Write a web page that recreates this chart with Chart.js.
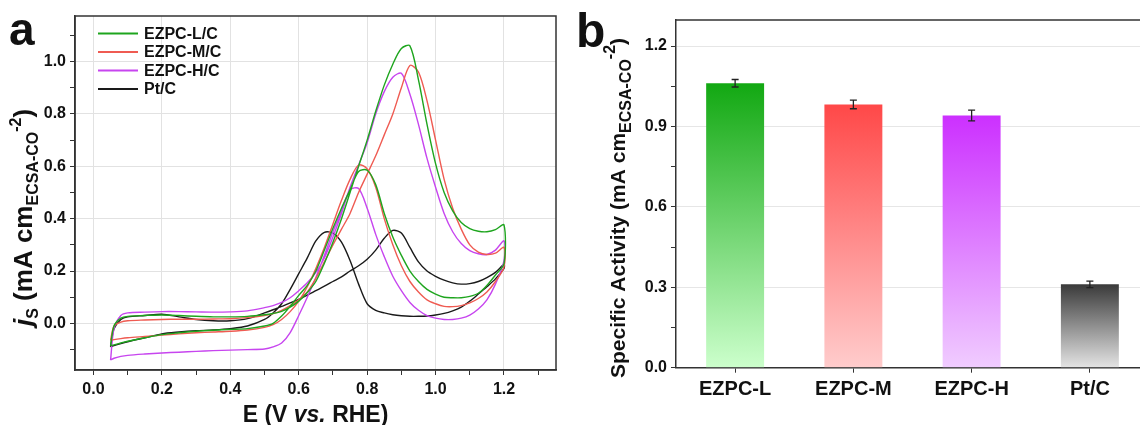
<!DOCTYPE html>
<html><head><meta charset="utf-8">
<script src="https://cdn.jsdelivr.net/npm/chart.js@4.4.0/dist/chart.umd.min.js"></script>
<style>
html,body{margin:0;padding:0;background:#fff;overflow:hidden;width:1140px;height:425px;}
#ca{position:absolute;left:0;top:0;}
#cb{position:absolute;left:570px;top:0;}
</style></head><body>
<canvas id="ca" width="570" height="425"></canvas>
<canvas id="cb" width="600" height="425"></canvas>
<script>
// ---------- Panel a: CV data (potential grid, forward & backward sweeps) ----------
const E_GRID = [0.05,0.06,0.08,0.1,0.15,0.2,0.25,0.3,0.35,0.4,0.45,0.5,0.525,0.55,0.575,0.6,0.625,0.65,0.675,0.7,0.725,0.75,0.775,0.8,0.825,0.85,0.875,0.9,0.925,0.95,0.975,1.0,1.025,1.05,1.075,1.1,1.125,1.15,1.175,1.2];

const L_FWD = [-0.085,-0.01,0.02,0.027,0.03,0.032,0.03,0.027,0.025,0.025,0.027,0.033,0.038,0.046,0.062,0.085,0.118,0.16,0.23,0.31,0.4,0.5,0.6,0.7,0.81,0.91,0.99,1.05,1.06,0.93,0.76,0.61,0.5,0.43,0.385,0.362,0.352,0.35,0.358,0.376];
const L_BWD = [-0.085,-0.082,-0.075,-0.068,-0.055,-0.043,-0.036,-0.03,-0.026,-0.023,-0.02,-0.01,0.0,0.028,0.065,0.107,0.145,0.2,0.28,0.363,0.44,0.51,0.58,0.585,0.53,0.42,0.33,0.26,0.2,0.16,0.13,0.112,0.1,0.098,0.098,0.103,0.115,0.145,0.185,0.228];

const M_FWD = [-0.065,-0.01,0.005,0.01,0.013,0.015,0.016,0.016,0.017,0.018,0.022,0.03,0.037,0.05,0.068,0.09,0.12,0.172,0.235,0.3,0.36,0.42,0.5,0.57,0.64,0.72,0.8,0.9,0.985,0.96,0.85,0.7,0.55,0.44,0.36,0.3,0.272,0.263,0.268,0.29];
const M_BWD = [-0.065,-0.062,-0.058,-0.055,-0.05,-0.045,-0.04,-0.036,-0.033,-0.03,-0.025,-0.015,-0.005,0.015,0.045,0.085,0.14,0.21,0.29,0.38,0.47,0.55,0.605,0.59,0.52,0.4,0.3,0.22,0.16,0.12,0.09,0.075,0.065,0.064,0.068,0.078,0.095,0.12,0.16,0.215];

const H_FWD = [-0.14,-0.02,0.03,0.04,0.043,0.045,0.045,0.044,0.043,0.044,0.048,0.06,0.068,0.08,0.098,0.125,0.155,0.195,0.25,0.33,0.42,0.52,0.605,0.69,0.8,0.885,0.94,0.955,0.875,0.76,0.63,0.52,0.42,0.35,0.305,0.278,0.266,0.263,0.28,0.315];
const H_BWD = [-0.14,-0.133,-0.126,-0.122,-0.117,-0.113,-0.11,-0.107,-0.104,-0.102,-0.1,-0.098,-0.09,-0.075,-0.035,0.03,0.1,0.175,0.26,0.35,0.43,0.51,0.515,0.44,0.34,0.255,0.18,0.125,0.08,0.05,0.03,0.02,0.015,0.015,0.02,0.032,0.055,0.09,0.15,0.24];

const P_FWD = [-0.09,-0.02,0.015,0.025,0.03,0.035,0.025,0.015,0.01,0.01,0.018,0.04,0.052,0.065,0.078,0.092,0.108,0.125,0.142,0.16,0.178,0.2,0.22,0.245,0.28,0.325,0.355,0.345,0.29,0.235,0.2,0.18,0.165,0.155,0.15,0.152,0.16,0.175,0.195,0.225];
const P_BWD = [-0.09,-0.085,-0.077,-0.07,-0.055,-0.04,-0.033,-0.028,-0.025,-0.02,-0.01,0.015,0.04,0.075,0.13,0.19,0.25,0.315,0.348,0.345,0.31,0.24,0.15,0.075,0.05,0.04,0.033,0.029,0.027,0.027,0.028,0.032,0.038,0.048,0.062,0.085,0.112,0.14,0.17,0.21];

const CV_LABELS = ['EZPC-L/C','EZPC-M/C','EZPC-H/C','Pt/C'];
const CV_COLORS = ['#1ea51e','#ef5b52','#c745ef','#1a1a1a'];

const A_X_TICK_LABELS = ['0.0','0.2','0.4','0.6','0.8','1.0','1.2'];
const A_Y_TICK_LABELS = ['0.0','0.2','0.4','0.6','0.8','1.0'];

// ---------- Panel b: bar data ----------
const BAR_CATS = ['EZPC-L','EZPC-M','EZPC-H','Pt/C'];
const BAR_VALUES = [1.061,0.982,0.941,0.311];
const BAR_ERRORS = [0.014,0.016,0.02,0.012];
const BAR_TOP = ['#12a812','#ff4848','#cc30ff','#3a3a3a'];
const BAR_BOTTOM = ['#ccffcc','#ffcccc','#f0ccff','#e4e4e4'];
const B_Y_TICK_LABELS = ['0.0','0.3','0.6','0.9','1.2'];

const F = '"Liberation Sans", Arial, Helvetica, sans-serif';
Chart.defaults.font.family = F;

function loop(fwd, bwd){
  const a = E_GRID.map((e,i)=>({x:e,y:fwd[i]}));
  const b = E_GRID.map((e,i)=>({x:e,y:bwd[i]})).reverse();
  return a.concat(b);
}
const SERIES = [[L_FWD,L_BWD],[M_FWD,M_BWD],[H_FWD,H_BWD],[P_FWD,P_BWD]];

function fmt(v){ const s=(Math.round(Number(v)*100)/100).toFixed(1); return s==='-0.0'?'0.0':s; }
function onStep(v, step){ const r=Number(v)/step; return Math.abs(r-Math.round(r))<1e-6; }

function richText(ctx, parts, x, y, rot, align){
  ctx.save();
  ctx.translate(x,y); ctx.rotate(rot);
  let total=0;
  parts.forEach(p=>{ctx.font=p.f; p.w=ctx.measureText(p.t).width; total+=p.w;});
  let cx = align==='start' ? 0 : -total/2;
  ctx.textAlign='left'; ctx.textBaseline='alphabetic'; ctx.fillStyle='#111';
  parts.forEach(p=>{ctx.font=p.f; ctx.fillText(p.t,cx,p.dy||0); cx+=p.w;});
  ctx.restore();
}

const decoA = {
  id:'decoA',
  afterDraw(chart){
    const ctx=chart.ctx, a=chart.chartArea;
    ctx.save();
    ctx.strokeStyle='#333'; ctx.lineWidth=1.5;
    ctx.strokeRect(a.left,a.top,a.right-a.left,a.bottom-a.top);
    const rows=[33.5,52,70.5,89];
    chart.data.datasets.forEach((ds,i)=>{
      ctx.strokeStyle=ds.borderColor; ctx.lineWidth=2;
      ctx.beginPath(); ctx.moveTo(98,rows[i]); ctx.lineTo(138,rows[i]); ctx.stroke();
      ctx.fillStyle='#111'; ctx.font='bold 16px '+F; ctx.textBaseline='middle'; ctx.textAlign='left';
      ctx.fillText(ds.label,144,rows[i]+1);
    });
    ctx.fillStyle='#111'; ctx.font='bold 46px '+F; ctx.textBaseline='alphabetic';
    ctx.fillText('a',9,45);
    ctx.restore();
    richText(ctx,[
      {t:'E (V ',f:'bold 23px '+F},
      {t:'vs.',f:'italic bold 23px '+F},
      {t:' RHE)',f:'bold 23px '+F}
    ],(a.left+a.right)/2,422,0,'center');
    richText(ctx,[
      {t:'j',f:'italic bold 26px '+F},
      {t:'S',f:'bold 16px '+F,dy:6},
      {t:' (mA cm',f:'bold 26px '+F},
      {t:'ECSA-CO',f:'bold 16px '+F,dy:6},
      {t:'-2',f:'bold 16px '+F,dy:-11},
      {t:')',f:'bold 26px '+F}
    ],32,326,-Math.PI/2,'start');
  }
};

const decoB = {
  id:'decoB',
  afterDatasetsDraw(chart){
    const ctx=chart.ctx, ys=chart.scales.y, meta=chart.getDatasetMeta(0);
    ctx.save();
    ctx.strokeStyle='#222'; ctx.lineWidth=1.3;
    meta.data.forEach((bar,i)=>{
      const yt=ys.getPixelForValue(BAR_VALUES[i]+BAR_ERRORS[i]);
      const yb=ys.getPixelForValue(BAR_VALUES[i]-BAR_ERRORS[i]);
      const x=bar.x;
      ctx.beginPath();
      ctx.moveTo(x,yt); ctx.lineTo(x,yb);
      ctx.moveTo(x-3.5,yt); ctx.lineTo(x+3.5,yt);
      ctx.moveTo(x-3.5,yb); ctx.lineTo(x+3.5,yb);
      ctx.stroke();
    });
    ctx.restore();
  },
  afterDraw(chart){
    const ctx=chart.ctx, a=chart.chartArea;
    ctx.save();
    ctx.strokeStyle='#333'; ctx.lineWidth=1.5;
    ctx.beginPath(); ctx.moveTo(a.left,a.top); ctx.lineTo(a.right,a.top); ctx.lineTo(a.right,a.bottom); ctx.stroke();
    ctx.fillStyle='#111'; ctx.font='bold 48px '+F; ctx.textBaseline='alphabetic'; ctx.textAlign='left';
    ctx.fillText('b',6,47);
    ctx.restore();
    richText(ctx,[
      {t:'Specific Activity (mA cm',f:'bold 21px '+F},
      {t:'ECSA-CO',f:'bold 16px '+F,dy:6},
      {t:'-2',f:'bold 16px '+F,dy:-10},
      {t:')',f:'bold 21px '+F}
    ],55,378,-Math.PI/2,'start');
  }
};

new Chart(document.getElementById('ca'),{
  type:'scatter',
  data:{datasets:SERIES.map((s,i)=>({
    label:CV_LABELS[i], data:loop(s[0],s[1]), showLine:true, fill:false,
    borderColor:CV_COLORS[i], backgroundColor:CV_COLORS[i], borderWidth:1.4,
    pointRadius:0, tension:0.3
  }))},
  options:{
    responsive:false, animation:false, devicePixelRatio:1,
    layout:{padding:{left:0,top:16,right:14,bottom:0}},
    plugins:{legend:{display:false},tooltip:{enabled:false}},
    scales:{
      x:{type:'linear',min:-0.054,max:1.352,
        afterFit(s){s.height=55;},
        border:{color:'#333',width:1.5},
        grid:{color:c=>(c.tick && A_X_TICK_LABELS.includes(fmt(c.tick.value)) && onStep(c.tick.value,0.2))?'#e2e2e2':'rgba(255,255,255,0)',tickColor:'#333',tickLength:5,lineWidth:1},
        ticks:{stepSize:0.1,autoSkip:false,includeBounds:false,maxRotation:0,padding:5,color:'#111',
          font:{size:16,weight:'bold'},
          callback:v=>{const s=fmt(v);return (A_X_TICK_LABELS.includes(s)&&onStep(v,0.2))?s:'';}}
      },
      y:{type:'linear',min:-0.178,max:1.174,
        afterFit(s){s.width=75;},
        border:{color:'#333',width:1.5},
        grid:{color:c=>(c.tick && A_Y_TICK_LABELS.includes(fmt(c.tick.value)) && onStep(c.tick.value,0.2))?'#e2e2e2':'rgba(255,255,255,0)',tickColor:'#333',tickLength:5,lineWidth:1},
        ticks:{stepSize:0.1,autoSkip:false,includeBounds:false,padding:4,color:'#111',
          font:{size:16,weight:'bold'},
          callback:v=>{const s=fmt(v);return (A_Y_TICK_LABELS.includes(s)&&onStep(v,0.2))?s:'';}}
      }
    }
  },
  plugins:[decoA]
});

new Chart(document.getElementById('cb'),{
  type:'bar',
  data:{labels:BAR_CATS,datasets:[{
    data:BAR_VALUES, barPercentage:0.49, categoryPercentage:1, borderWidth:0,
    backgroundColor:c=>{
      const ch=c.chart, i=c.dataIndex;
      if(!ch.chartArea || !ch.scales.y) return BAR_TOP[i];
      const ys=ch.scales.y;
      const t=ys.getPixelForValue(BAR_VALUES[i]), b=ys.getPixelForValue(0);
      const g=ch.ctx.createLinearGradient(0,t,0,b);
      g.addColorStop(0,BAR_TOP[i]); g.addColorStop(1,BAR_BOTTOM[i]);
      return g;
    }
  }]},
  options:{
    responsive:false, animation:false, devicePixelRatio:1,
    layout:{padding:{left:0,top:20,right:21,bottom:0}},
    plugins:{legend:{display:false},tooltip:{enabled:false}},
    scales:{
      x:{afterFit(s){s.height=57.3;},
        border:{color:'#333',width:1.5},
        grid:{offset:false,drawOnChartArea:false,tickColor:'#333',tickLength:5},
        ticks:{padding:5,color:'#111',font:{size:20,weight:'bold'},maxRotation:0,autoSkip:false}
      },
      y:{min:0,max:1.297,
        afterFit(s){s.width=106;},
        border:{color:'#333',width:1.5},
        grid:{color:c=>(c.tick && B_Y_TICK_LABELS.includes(fmt(c.tick.value)) && onStep(c.tick.value,0.3))?'#e6e6e6':'rgba(255,255,255,0)',tickColor:'#333',tickLength:5,lineWidth:1},
        ticks:{stepSize:0.15,autoSkip:false,includeBounds:false,padding:4,color:'#111',
          font:{size:16,weight:'bold'},
          callback:v=>{const s=fmt(v);return (B_Y_TICK_LABELS.includes(s)&&onStep(v,0.3))?s:'';}}
      }
    }
  },
  plugins:[decoB]
});
</script>
</body></html>
